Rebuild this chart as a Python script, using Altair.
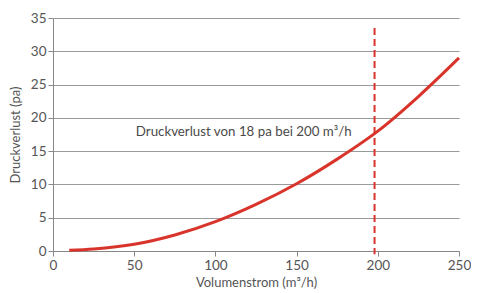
import altair as alt
import pandas as pd

# Curve
flow = [10, 25, 50, 75, 100, 125, 150, 175, 200, 225, 250]
loss = [0.1, 0.3, 1.0, 2.4, 4.4, 7.0, 10.1, 13.8, 18.0, 23.2, 29.0]

x_ticks = [0, 50, 100, 150, 200, 250]
y_ticks = [0, 5, 10, 15, 20, 25, 30, 35]

marker_x = [198]
marker_top = [33.5]
note_text = ["Druckverlust von 18 pa bei 200 m³/h"]
note_x = [51]
note_y = [17.9]

curve_df = pd.DataFrame({"flow": flow, "loss": loss})
marker_df = pd.DataFrame({"x": marker_x, "top": marker_top, "bottom": [-0.5]})
note_df = pd.DataFrame({"x": note_x, "y": note_y, "t": note_text})

FONT = "Lato"
GREY = "#555555"
RED = "#d9342b"

xscale = alt.Scale(domain=[0, 250], nice=False, zero=False)
yscale = alt.Scale(domain=[0, 35], nice=False)
xaxis = alt.Axis(title="Volumenstrom (m³/h)", values=x_ticks, labelFlush=False,
                 grid=False, tickSize=5, labelPadding=2, titlePadding=5)
yaxis = alt.Axis(title="Druckverlust (pa)", values=y_ticks, labelOverlap=False,
                 labelFlush=False,
                 grid=True, tickSize=5, labelPadding=2, titlePadding=8)

curve = alt.Chart(curve_df).mark_line(
    color=RED, strokeWidth=3, interpolate="monotone", clip=False
).encode(
    x=alt.X("flow:Q", scale=xscale, axis=xaxis),
    y=alt.Y("loss:Q", scale=yscale, axis=yaxis),
)

marker = alt.Chart(marker_df).mark_rule(
    color=RED, strokeWidth=2, strokeDash=[7, 4]
).encode(
    x=alt.X("x:Q", scale=xscale, axis=xaxis),
    y=alt.Y("top:Q", scale=yscale, axis=yaxis),
    y2="bottom:Q",
)

note = alt.Chart(note_df).mark_text(
    align="left", baseline="middle", font=FONT, fontSize=13.3, color="#4a4a4a"
).encode(
    x=alt.X("x:Q", scale=xscale, axis=xaxis),
    y=alt.Y("y:Q", scale=yscale, axis=yaxis),
    text="t:N",
)

chart = alt.layer(curve, marker, note).properties(
    width=406, height=233,
    autosize=alt.AutoSizeParams(type="none"),
    padding={"left": 45, "top": 10, "right": 12, "bottom": 40},
).configure_view(stroke=None).configure_axis(
    domainColor="#888888", tickColor="#888888", gridColor="#9a9a9a",
    gridWidth=1, domainWidth=1,
    labelFont=FONT, labelFontSize=13.5, labelColor=GREY,
    titleFont=FONT, titleFontSize=13, titleColor=GREY, titleFontWeight="normal",
)

chart.save("out.html", embed_options={"renderer": "svg", "actions": False})
